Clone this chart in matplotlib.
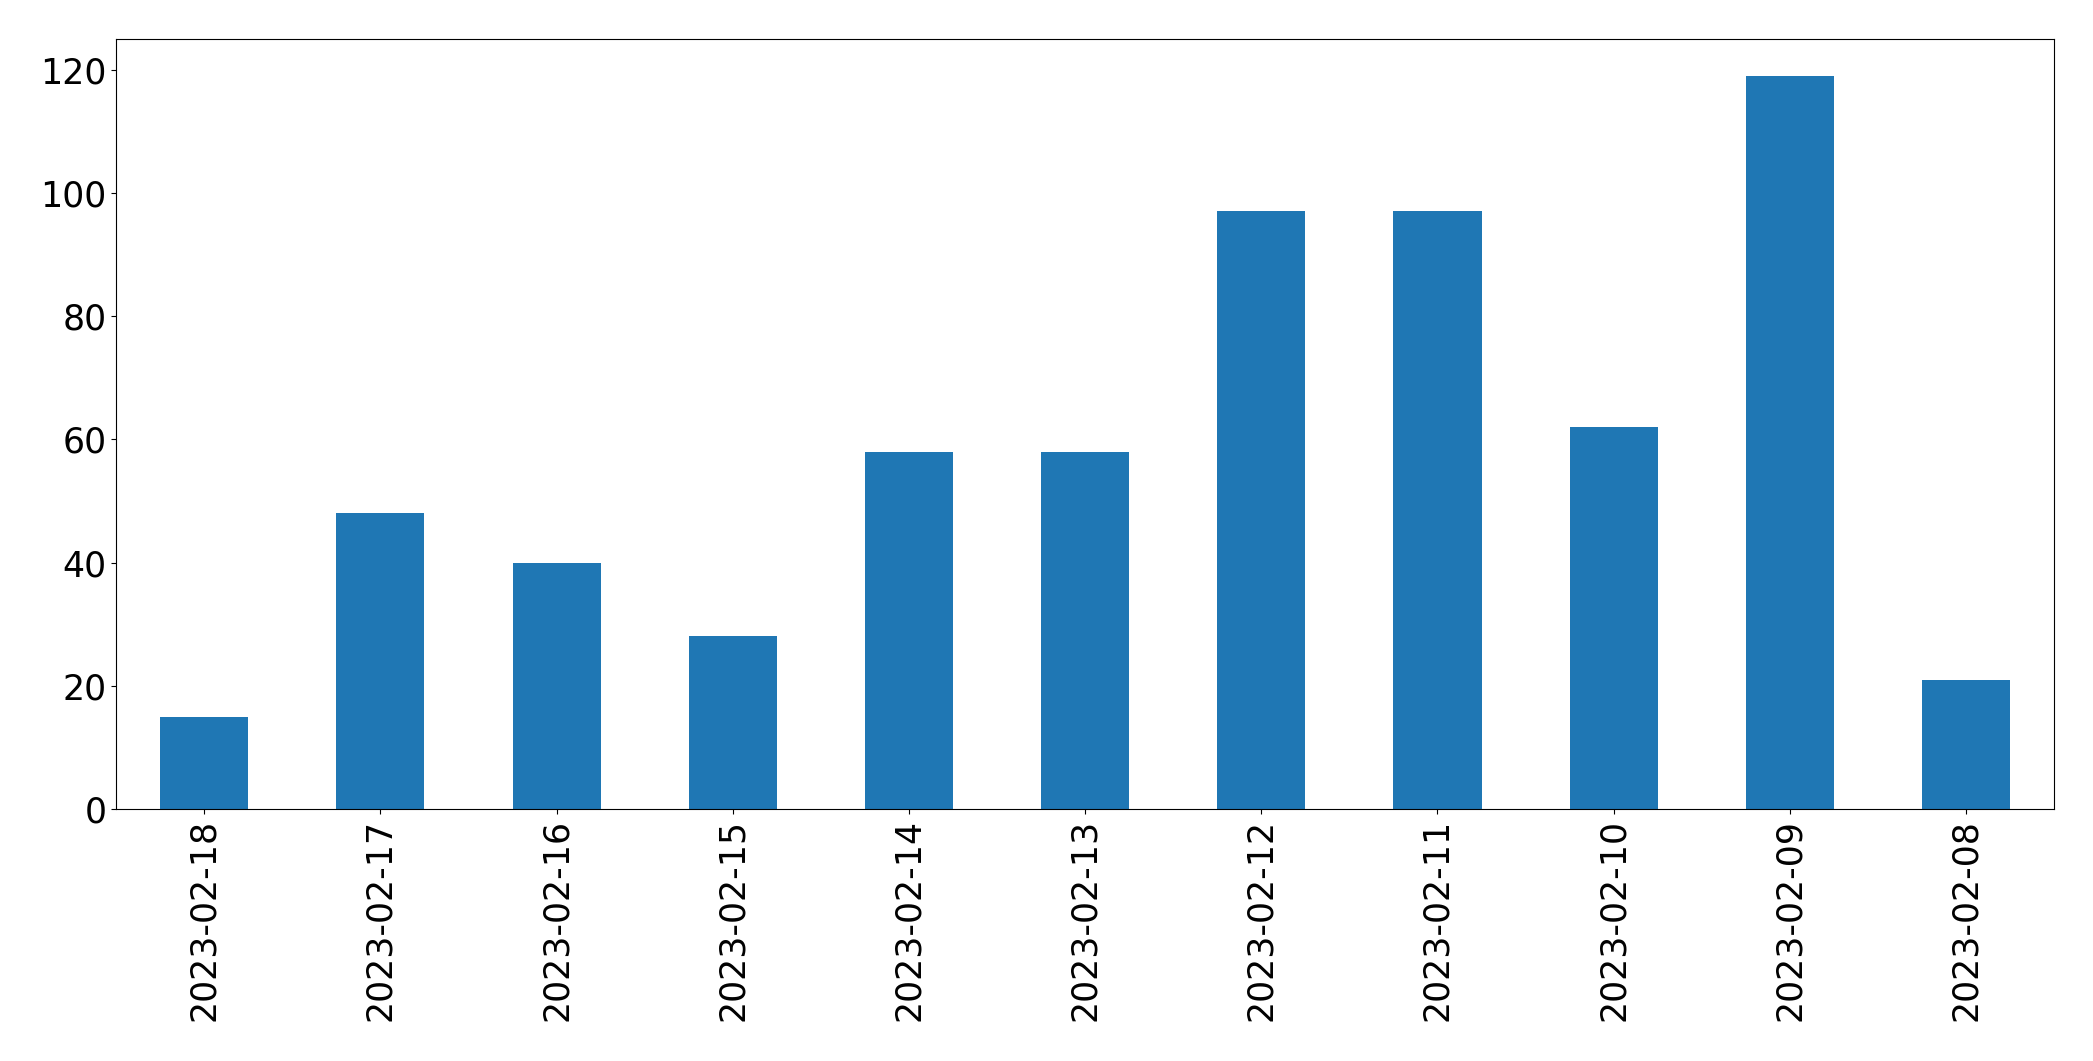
import matplotlib.pyplot as plt
import numpy as np

# daily counts, newest first (as in the original index order)
dates = [
    "2023-02-18", "2023-02-17", "2023-02-16", "2023-02-15",
    "2023-02-14", "2023-02-13", "2023-02-12", "2023-02-11",
    "2023-02-10", "2023-02-09", "2023-02-08",
]
counts = [15, 48, 40, 28, 58, 58, 97, 97, 62, 119, 21]

plt.rcParams["xtick.labelsize"] = 25
plt.rcParams["ytick.labelsize"] = 25

fig, ax = plt.subplots(figsize=(20.93, 10.61), dpi=100)
x = np.arange(len(dates))
ax.bar(x, counts, width=0.5, color="#1f77b4")
ax.set_xticks(x)
ax.set_xticklabels(dates, rotation=90)
ax.set_xlim(-0.5, len(dates) - 0.5)

fig.subplots_adjust(left=0.0555, right=0.9814, top=0.9632, bottom=0.2375)
fig.savefig("out.png")
